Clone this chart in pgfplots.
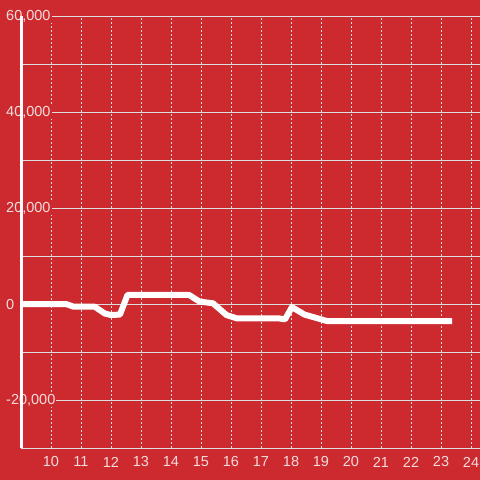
\documentclass[border=0pt]{standalone}
\usepackage{pgfplots}
\pgfplotsset{compat=1.18}
\usepackage{fontspec}
\setmainfont{Liberation Sans}
\definecolor{bgred}{RGB}{204,42,47}
\definecolor{gridc}{RGB}{222,222,222}
\definecolor{labc}{RGB}{244,220,221}
\begin{document}
\begin{tikzpicture}
\fill[bgred] (0,0) rectangle (480pt,480pt);
\begin{axis}[
  at={(21pt,32pt)}, anchor=south west,
  scale only axis, width=459pt, height=432pt,
  xmin=9, xmax=24.3, ymin=-30000, ymax=60000,
  axis x line=bottom, axis y line=left,
  axis line style={-},
  x axis line style={draw=gridc, line width=0.8pt},
  y axis line style={draw=none},
  major tick length=0pt, minor tick length=0pt,
  scaled ticks=false,
  xtick={10,...,24},
  ytick={-20000,20000,40000,60000},
  minor ytick={-10000,10000,30000,50000},
  extra y ticks={0},
  extra y tick style={grid style={draw=white, line width=2.8pt, solid}},
  ymajorgrids, yminorgrids, xmajorgrids,
  y grid style={draw=gridc, line width=0.8pt},
  x grid style={draw=gridc, line width=0.8pt, dash pattern=on 2pt off 2pt},
  /pgf/number format/assume math mode=true,
  /pgf/number format/.cd, 1000 sep={,},
  /pgfplots/.cd,
  ticklabel style={font=\fontsize{14.5}{16}\selectfont, text=labc},
  yticklabel style={anchor=west, xshift=-16pt, yshift=-0.5pt, fill=bgred, inner sep=1pt},
  xticklabel style={anchor=center, yshift=-14pt},
  clip=false,
]
\draw[white, line width=3pt] (axis cs:9,-30000) -- (axis cs:9,60000);
\addplot[white, line width=6pt, line join=round] coordinates {
(9.0,0) (10.5,0) (10.75,-550) (11.45,-550) (11.8,-2000) (12.0,-2300)
(12.3,-2200) (12.55,1900) (14.6,1900) (14.95,500) (15.4,150)
(15.85,-2300) (16.2,-3000) (17.6,-3000) (17.8,-3200) (18.03,-650)
(18.45,-2200) (19.2,-3550) (23.37,-3550)
};
\end{axis}
\pgfresetboundingbox
\path (0,0) rectangle (480pt,480pt);
\end{tikzpicture}
\end{document}
